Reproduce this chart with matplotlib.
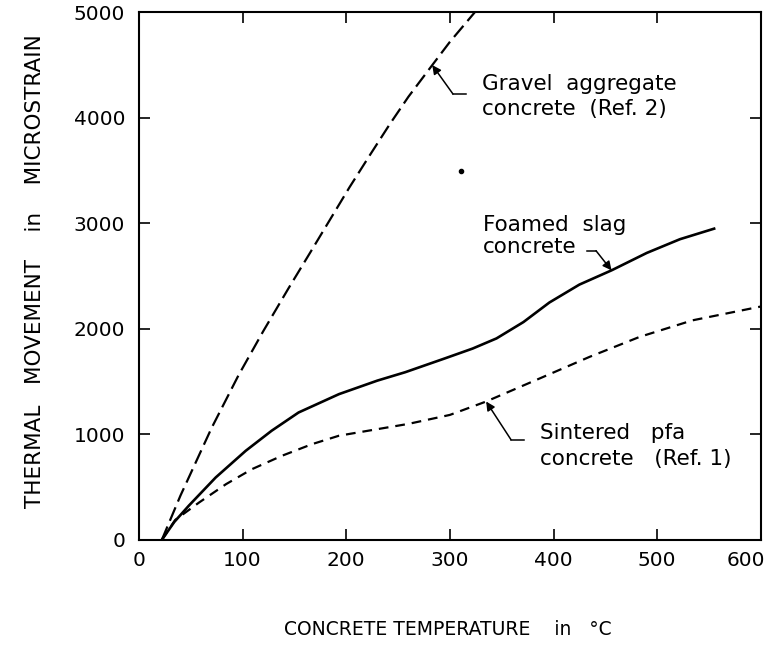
import matplotlib
matplotlib.use('Agg')
import matplotlib.pyplot as plt
from matplotlib.transforms import ScaledTranslation

# thermal movement (microstrain) against concrete temperature (deg C)
gravel_x = [22, 40, 70, 96, 120, 144, 165, 184, 203, 223, 242, 260, 283, 300, 324]
gravel_y = [0, 420, 1060, 1560, 1980, 2380, 2720, 3030, 3340, 3650, 3940, 4200, 4500, 4720, 5000]

foamed_x = [22, 34, 48, 74, 103, 128, 154, 193, 230, 257, 295, 322, 345, 371, 396, 425, 456, 490, 522, 555]
foamed_y = [0, 170, 324, 592, 845, 1035, 1208, 1382, 1510, 1590, 1720, 1814, 1910, 2065, 2250, 2420, 2555, 2720, 2850, 2950]

sintered_x = [22, 35, 58, 84, 109, 138, 167, 193, 230, 260, 300, 335, 387, 435, 483, 534, 600]
sintered_y = [0, 190, 355, 529, 671, 798, 908, 988, 1050, 1100, 1185, 1312, 1532, 1736, 1924, 2081, 2212]

speck_x = [311]
speck_y = [3500]

x_ticks = [0, 100, 200, 300, 400, 500, 600]
y_ticks = [0, 1000, 2000, 3000, 4000, 5000]

plt.rcParams['font.family'] = ['DejaVu Sans']
plt.rcParams['lines.scale_dashes'] = False

fig, ax = plt.subplots(figsize=(7.7, 6.49), dpi=100)
fig.subplots_adjust(left=0.1805, right=0.988, bottom=0.168, top=0.981)

ax.plot(gravel_x, gravel_y, color='black', lw=1.6, dashes=(10.5, 4.5))
ax.plot(foamed_x, foamed_y, color='black', lw=1.9)
ax.plot(sintered_x, sintered_y, color='black', lw=1.6, dashes=(7, 5))
ax.plot(speck_x, speck_y, 'o', color='black', ms=3)


def leader(tip, bend, start):
    ax.plot([start[0], bend[0]], [start[1], bend[1]], color='black', lw=1.1)
    ax.annotate('', xy=tip, xytext=bend,
                arrowprops=dict(arrowstyle='-|>', color='black', lw=1.1,
                                mutation_scale=13, shrinkA=0, shrinkB=0))


leader((gravel_x[12], gravel_y[12]), (303, 4226), (316, 4226))
leader((foamed_x[16], foamed_y[16]), (441, 2741), (432, 2741))
leader((sintered_x[11], sintered_y[11]), (359, 950), (372, 950))

fs = 15.5
ax.text(331, 4320, 'Gravel  aggregate', fontsize=fs, va='center')
ax.text(331, 4085, 'concrete  (Ref. 2)', fontsize=fs, va='center')
ax.text(332, 2985, 'Foamed  slag', fontsize=fs, va='center')
ax.text(332, 2775, 'concrete', fontsize=fs, va='center')
ax.text(387, 1010, 'Sintered   pfa', fontsize=fs, va='center')
ax.text(387, 765, 'concrete   (Ref. 1)', fontsize=fs, va='center')

ax.set_xlim(0, 600)
ax.set_ylim(0, 5000)
ax.set_xticks(x_ticks)
ax.set_yticks(y_ticks)
ax.tick_params(direction='in', length=8, width=1.2, top=True, right=True,
               labelsize=14.5)
ax.tick_params(axis='x', pad=8)
ax.tick_params(axis='y', pad=10)
for s in ax.spines.values():
    s.set_linewidth(1.5)

# last x label sits left of its tick, as in the original
last = ax.get_xticklabels()[-1]
last.set_transform(last.get_transform() + ScaledTranslation(-0.15, 0, fig.dpi_scale_trans))

ax.set_xlabel('CONCRETE TEMPERATURE    in   \u00b0C', fontsize=13.5)
ax.xaxis.set_label_coords(0.497, -0.151)
ax.set_ylabel('THERMAL   MOVEMENT    in    MICROSTRAIN', fontsize=15.5)
ax.yaxis.set_label_coords(-0.151, 0.51)

fig.savefig('out.png', dpi=100)
